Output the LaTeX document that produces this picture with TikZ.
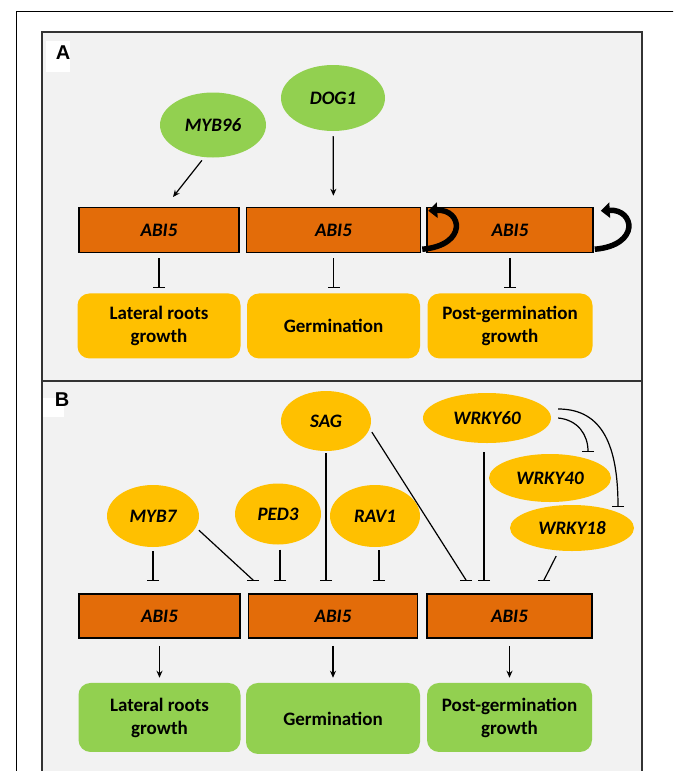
\documentclass[tikz,border=0pt]{standalone}
\usepackage{fontspec}
\setmainfont{Carlito}
\newfontfamily\panelfont{Liberation Sans}
\usepackage{tikz}
\usetikzlibrary{positioning,shapes.geometric,arrows.meta}
\definecolor{abiorange}{HTML}{E36C09}
\definecolor{geneyellow}{HTML}{FFC000}
\definecolor{genegreen}{HTML}{92D050}
\definecolor{panelgray}{HTML}{F2F2F2}

\begin{document}
\begin{tikzpicture}[
    x=1pt, y=-1pt,
    node distance=40pt and 6pt,
    gene/.style={ellipse, inner sep=0pt, font=\fontsize{19}{23}\selectfont\bfseries\itshape},
    abibox/.style={rectangle, draw, line width=1.5pt, fill=abiorange, minimum height=45pt, inner sep=0pt, font=\fontsize{19}{23}\selectfont\bfseries\itshape},
    outcome/.style={rectangle, rounded corners=12pt, inner sep=0pt, align=center, font=\fontsize{19}{23}\selectfont\bfseries},
    panel/.style={draw=black!80, line width=1.5pt, fill=panelgray},
    tag/.style={font=\panelfont\fontsize{20}{24}\selectfont\bfseries},
    act/.style={-{Stealth[length=7pt,width=6pt]}, line width=1.2pt},
    inh/.style={-{Bar[width=12pt]}, line width=1.2pt},
    selfloop/.style={-{Triangle[length=9pt,width=15pt]}, line width=5.5pt}
]
\clip (0,0) rectangle (673,771);

% Marco y paneles
\draw[line width=0.8pt] (16,11) rectangle (700,800);
\draw[panel] (42,32) rectangle (642,381);
\draw[panel] (42,381) rectangle (642,800);
\fill[white] (46,41) rectangle (70,72);
\node[tag] (labA) at (63,53) {A};
\fill[white] (43,398) rectangle (64,417);
\node[tag] (labB) at (62,400) {B};

% Panel A
\node[gene, fill=genegreen, minimum width=106pt, minimum height=65pt] (MYB96) at (213,125) {MYB96};
\node[gene, fill=genegreen, minimum width=104pt, minimum height=66pt] (DOG1) at (333,98) {DOG1};
\node[abibox, minimum width=160pt] (abiA1) at (159,230) {ABI5};
\node[abibox, minimum width=174pt, right=6pt of abiA1] (abiA2) {ABI5};
\node[abibox, minimum width=166pt, right=5pt of abiA2] (abiA3) {ABI5};
\node[outcome, fill=geneyellow, minimum width=163pt, minimum height=65pt, below=of abiA1] (growA1) {Lateral roots\\growth};
\node[outcome, fill=geneyellow, minimum width=173pt, minimum height=65pt, below=of abiA2] (growA2) {Germination};
\node[outcome, fill=geneyellow, minimum width=165pt, minimum height=65pt, below=of abiA3] (growA3) {Post-germination\\growth};
\coordinate (tipA1) at (173,197);

\draw[act, shorten <=4pt] (MYB96.255) -- (tipA1);
\draw[act, shorten <=5pt, shorten >=11pt] (DOG1) -- (abiA2);
\draw[inh, shorten <=5pt, shorten >=5pt] (abiA1) -- (growA1);
\draw[inh, shorten <=5pt, shorten >=5pt] (abiA2) -- (growA2);
\draw[inh, shorten <=5pt, shorten >=5pt] (abiA3) -- (growA3);
\draw[selfloop] ([xshift=1pt,yshift=4pt]abiA2.south east) .. controls +(46,-4) and +(34,-2) .. ([xshift=7pt,yshift=-4pt]abiA2.north east);
\draw[selfloop] ([xshift=1pt,yshift=4pt]abiA3.south east) .. controls +(46,-4) and +(34,-2) .. ([xshift=7pt,yshift=-4pt]abiA3.north east);

% Panel B
\node[gene, fill=geneyellow, minimum width=90pt, minimum height=60pt] (SAG) at (326,421) {SAG};
\node[gene, fill=geneyellow, minimum width=128pt, minimum height=50pt] (WRKY60) at (487,418) {WRKY60};
\node[gene, fill=geneyellow, minimum width=122pt, minimum height=48pt] (WRKY40) at (550,478) {WRKY40};
\node[gene, fill=geneyellow, minimum width=124pt, minimum height=46pt] (WRKY18) at (572,528) {WRKY18};
\node[gene, fill=geneyellow, minimum width=92pt, minimum height=62pt] (MYB7) at (153,516) {MYB7};
\node[gene, fill=geneyellow, minimum width=86pt, minimum height=61pt] (PED3) at (278,514) {PED3};
\node[gene, fill=geneyellow, minimum width=90pt, minimum height=62pt] (RAV1) at (375,516) {RAV1};
\node[abibox, minimum width=161pt, minimum height=44pt] (abiB1) at (159.5,616) {ABI5};
\node[abibox, minimum width=169pt, minimum height=44pt, right=7pt of abiB1] (abiB2) {ABI5};
\node[abibox, minimum width=165pt, minimum height=44pt, right=8pt of abiB2] (abiB3) {ABI5};
\node[outcome, fill=genegreen, minimum width=162pt, minimum height=69pt, below=44pt of abiB1] (growB1) {Lateral roots\\growth};
\node[outcome, fill=genegreen, minimum width=174pt, minimum height=71pt, below=44pt of abiB2] (growB2) {Germination};
\node[outcome, fill=genegreen, minimum width=165pt, minimum height=69pt, below=44pt of abiB3] (growB3) {Post-germination\\growth};

\coordinate (barM1) at (153,581);
\coordinate (barM2) at (253,581);
\coordinate (barP) at (280,581);
\coordinate (barS1) at (326,581);
\coordinate (barR) at (379,581);
\coordinate (barS2) at (466,581);
\coordinate (barW60) at (484,581);
\coordinate (barW18) at (544,581);
\coordinate (barW40) at (588,452);
\coordinate (barW18b) at (618,507);

\draw[inh, shorten <=4pt] (MYB7) -- (barM1);
\draw[inh, shorten <=4pt] (MYB7.-15) -- ([yshift=1pt]barM2) -- (barM2);
\draw[inh, shorten <=5pt] (PED3.south -| barP) -- (barP);
\draw[inh, shorten <=2pt] (SAG) -- (barS1);
\draw[inh, shorten <=3pt] (RAV1.south -| barR) -- (barR);
\draw[inh, shorten <=4pt] (SAG.-10) -- ([yshift=1pt]barS2) -- (barS2);
\draw[inh, shorten <=9pt] (WRKY60.south -| barW60) -- (barW60);
\draw[inh, shorten <=6pt] (WRKY18.240) -- ([yshift=1pt]barW18) -- (barW18);
\draw[inh] ([xshift=7pt]WRKY60.east) .. controls +(20,2) and +(0,-17) .. (barW40);
\draw[inh] ([xshift=7pt,yshift=9pt]WRKY60.east) .. controls +(45,0) and +(0,-60) .. (barW18b);
\draw[act, shorten <=7pt, shorten >=5pt] (abiB1.south) -- (abiB1.south |- growB1.north);
\draw[act, shorten <=7pt, shorten >=5pt] (abiB2.south) -- (abiB2.south |- growB2.north);
\draw[act, shorten <=7pt, shorten >=5pt] (abiB3.south) -- (abiB3.south |- growB3.north);

\end{tikzpicture}
\end{document}
